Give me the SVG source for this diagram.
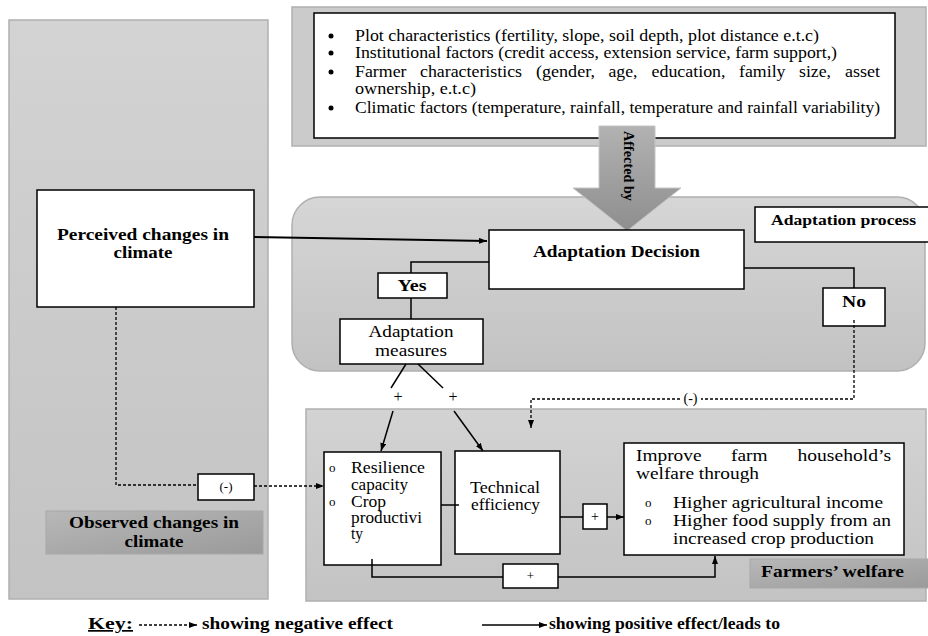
<svg xmlns="http://www.w3.org/2000/svg" width="928" height="636" viewBox="0 0 928 636" font-family="'Liberation Serif', 'DejaVu Serif', serif">
<defs>
<linearGradient id="gPanel" x1="0" y1="0" x2="0" y2="1"><stop offset="0" stop-color="#d3d3d3"/><stop offset="1" stop-color="#c3c3c3"/></linearGradient>
<linearGradient id="gMid" x1="0" y1="0" x2="0" y2="1"><stop offset="0" stop-color="#d6d6d6"/><stop offset="1" stop-color="#c2c2c2"/></linearGradient>
<linearGradient id="gDark" x1="0" y1="0" x2="1" y2="1"><stop offset="0" stop-color="#b8b8b8"/><stop offset="1" stop-color="#9a9a9a"/></linearGradient>
<linearGradient id="gArrow" x1="0" y1="0" x2="0" y2="1"><stop offset="0" stop-color="#b2b2b2"/><stop offset="1" stop-color="#8e8e8e"/></linearGradient>
<marker id="ah" markerWidth="8" markerHeight="6" refX="8" refY="3" orient="auto" markerUnits="userSpaceOnUse"><path d="M0,0 L8,3 L0,6 Z" fill="#000"/></marker>
</defs>
<style>
text{font-family:'Liberation Serif','DejaVu Serif',serif;fill:#000}
.b{font-weight:bold}
.box{fill:#fff;stroke:#000;stroke-width:1.5}
.ln{fill:none;stroke:#000;stroke-width:1.5}
.dl{fill:none;stroke:#000;stroke-width:1.3;stroke-dasharray:3,2}
.pan{stroke:#b0b0b0;stroke-width:1.5}
</style>

<g id="observed-panel">
<rect x="9" y="20" width="259" height="579" fill="url(#gPanel)" class="pan"/>
</g>
<g id="factors-panel">
<rect x="292" y="7" width="634" height="139" fill="#cbcbcb" class="pan"/>
</g>
<g id="adaptation-panel">
<rect x="292" y="197" width="633" height="174" rx="28" fill="url(#gMid)" class="pan"/>
</g>
<g id="welfare-panel">
<rect x="306" y="409" width="620" height="192" fill="url(#gPanel)" class="pan"/>
</g>

<g id="factors">
<rect x="314" y="13" width="581" height="125" class="box"/>
<circle cx="331" cy="36" r="2.5"/>
<circle cx="331" cy="53" r="2.5"/>
<circle cx="331" cy="72" r="2.5"/>
<circle cx="331" cy="108" r="2.5"/>
<text font-size="16" x="355" y="41" textLength="464" lengthAdjust="spacingAndGlyphs">Plot characteristics (fertility, slope, soil depth, plot distance e.t.c)</text>
<text font-size="16" x="355" y="58" textLength="482" lengthAdjust="spacingAndGlyphs">Institutional factors (credit access, extension service, farm support,)</text>
<text font-size="16" x="355" y="77" textLength="51.5" lengthAdjust="spacingAndGlyphs">Farmer</text>
<text font-size="16" x="420" y="77" textLength="102" lengthAdjust="spacingAndGlyphs">characteristics</text>
<text font-size="16" x="536" y="77" textLength="59" lengthAdjust="spacingAndGlyphs">(gender,</text>
<text font-size="16" x="608.5" y="77" textLength="29" lengthAdjust="spacingAndGlyphs">age,</text>
<text font-size="16" x="651.5" y="77" textLength="74" lengthAdjust="spacingAndGlyphs">education,</text>
<text font-size="16" x="739" y="77" textLength="46.5" lengthAdjust="spacingAndGlyphs">family</text>
<text font-size="16" x="799" y="77" textLength="32" lengthAdjust="spacingAndGlyphs">size,</text>
<text font-size="16" x="845" y="77" textLength="35" lengthAdjust="spacingAndGlyphs">asset</text>
<text font-size="16" x="355" y="94" textLength="121" lengthAdjust="spacingAndGlyphs">ownership, e.t.c)</text>
<text font-size="16" x="355" y="113" textLength="525" lengthAdjust="spacingAndGlyphs">Climatic factors (temperature, rainfall, temperature and rainfall variability)</text>
</g>

<g id="affected-by">
<polygon points="599,126 655,126 655,188 681,188 627,231 573,188 599,188" fill="url(#gArrow)" stroke="#c4c4c4" stroke-width="1"/>
<text class="b" font-size="15" text-anchor="middle" transform="translate(624,166) rotate(90)" textLength="70" lengthAdjust="spacingAndGlyphs">Affected by</text>
</g>

<g id="perceived">
<rect x="37" y="190" width="217" height="117" class="box"/>
<text class="b" font-size="17" x="143" y="240" text-anchor="middle" textLength="172" lengthAdjust="spacingAndGlyphs">Perceived changes in</text>
<text class="b" font-size="17" x="143" y="258" text-anchor="middle" textLength="59" lengthAdjust="spacingAndGlyphs">climate</text>
</g>

<g id="observed-label">
<rect x="46" y="511" width="217" height="43" fill="url(#gDark)" stroke="#a8a8a8" stroke-width="1"/>
<text class="b" font-size="17" x="154" y="528" text-anchor="middle" textLength="170" lengthAdjust="spacingAndGlyphs">Observed changes in</text>
<text class="b" font-size="17" x="154" y="547" text-anchor="middle" textLength="59" lengthAdjust="spacingAndGlyphs">climate</text>
</g>

<g id="neg-box-left">
<rect x="198" y="474" width="56" height="26" class="box"/>
<text font-size="13" x="226" y="491" text-anchor="middle">(-)</text>
</g>

<g id="adaptation-process">
<rect x="755" y="207" width="175" height="35" class="box"/>
<text class="b" font-size="15" x="771" y="225" textLength="145" lengthAdjust="spacingAndGlyphs">Adaptation process</text>
</g>

<g id="decision">
<rect x="489" y="230" width="255" height="59" class="box"/>
<text class="b" font-size="16" x="616.5" y="257" text-anchor="middle" textLength="167" lengthAdjust="spacingAndGlyphs">Adaptation Decision</text>
</g>

<g id="yes">
<rect x="378" y="273" width="69" height="25" class="box"/>
<text class="b" font-size="16" x="412" y="291" text-anchor="middle" textLength="29" lengthAdjust="spacingAndGlyphs">Yes</text>
</g>

<g id="no">
<rect x="823" y="288" width="62" height="38" class="box"/>
<text class="b" font-size="16" x="854" y="307" text-anchor="middle" textLength="24" lengthAdjust="spacingAndGlyphs">No</text>
</g>

<g id="measures">
<rect x="340" y="319" width="143" height="45" class="box"/>
<text font-size="17" x="411" y="337" text-anchor="middle" textLength="85" lengthAdjust="spacingAndGlyphs">Adaptation</text>
<text font-size="17" x="411" y="356" text-anchor="middle" textLength="72" lengthAdjust="spacingAndGlyphs">measures</text>
</g>

<g id="resilience">
<rect x="324" y="452" width="117" height="113" class="box"/>
<text font-size="13" x="329" y="472">o</text>
<text font-size="13" x="329" y="506">o</text>
<text font-size="16" x="351" y="473" textLength="74" lengthAdjust="spacingAndGlyphs">Resilience</text>
<text font-size="16" x="351" y="490" textLength="57" lengthAdjust="spacingAndGlyphs">capacity</text>
<text font-size="16" x="351" y="507" textLength="35" lengthAdjust="spacingAndGlyphs">Crop</text>
<text font-size="16" x="351" y="523" textLength="71" lengthAdjust="spacingAndGlyphs">productivi</text>
<text font-size="16" x="351" y="539" textLength="12" lengthAdjust="spacingAndGlyphs">ty</text>
</g>

<g id="technical">
<rect x="455" y="451" width="105" height="103" class="box"/>
<text font-size="16" x="470" y="493" textLength="70" lengthAdjust="spacingAndGlyphs">Technical</text>
<text font-size="16" x="471" y="510" textLength="69" lengthAdjust="spacingAndGlyphs">efficiency</text>
</g>

<g id="plus-small">
<rect x="583" y="504" width="24" height="25" class="box"/>
<text font-size="14" x="595" y="521" text-anchor="middle">+</text>
</g>

<g id="plus-bottom">
<rect x="503" y="564" width="55" height="24" class="box"/>
<text font-size="13" x="530.5" y="580" text-anchor="middle">+</text>
</g>

<g id="improve">
<rect x="624" y="443" width="280" height="112" class="box"/>
<text font-size="16" x="636" y="461" textLength="65.5" lengthAdjust="spacingAndGlyphs">Improve</text>
<text font-size="16" x="731" y="461" textLength="36.5" lengthAdjust="spacingAndGlyphs">farm</text>
<text font-size="16" x="797.5" y="461" textLength="93.5" lengthAdjust="spacingAndGlyphs">household’s</text>
<text font-size="16" x="636" y="479" textLength="123" lengthAdjust="spacingAndGlyphs">welfare through</text>
<text font-size="13" x="645" y="507">o</text>
<text font-size="13" x="645" y="525">o</text>
<text font-size="16" x="673" y="508" textLength="210" lengthAdjust="spacingAndGlyphs">Higher agricultural income</text>
<text font-size="16" x="673" y="526" textLength="218" lengthAdjust="spacingAndGlyphs">Higher food supply from an</text>
<text font-size="16" x="673" y="544" textLength="201" lengthAdjust="spacingAndGlyphs">increased crop production</text>
</g>

<g id="farmers-welfare-label">
<rect x="750" y="559" width="180" height="29" fill="url(#gDark)" stroke="#a8a8a8" stroke-width="1"/>
<text class="b" font-size="16" x="761" y="577" textLength="143" lengthAdjust="spacingAndGlyphs">Farmers’ welfare</text>
</g>

<g id="connectors">
<line x1="254" y1="237" x2="487" y2="241" stroke="#000" stroke-width="2" marker-end="url(#ah)"/>
<polyline points="489,262 411,262 411,273" class="ln"/>
<line x1="411" y1="298" x2="411" y2="319" class="ln"/>
<polyline points="744,268 854,268 854,288" class="ln"/>
<line x1="406" y1="364" x2="391" y2="388" class="ln"/>
<line x1="418" y1="364" x2="443" y2="388" class="ln"/>
<text font-size="16" x="398" y="402" text-anchor="middle">+</text>
<text font-size="16" x="453" y="402" text-anchor="middle">+</text>
<line x1="393" y1="411" x2="381" y2="451" class="ln" marker-end="url(#ah)"/>
<line x1="454" y1="411" x2="483" y2="451" class="ln" marker-end="url(#ah)"/>
<polyline points="854,320 854,399 701,399" class="dl"/>
<polyline points="680,399 531,399 531,428" class="dl" marker-end="url(#ah)"/>
<text font-size="14" x="690.5" y="403" text-anchor="middle">(-)</text>
<polyline points="116,307 116,485 198,485" class="dl"/>
<line x1="254" y1="486" x2="324" y2="486" class="dl" marker-end="url(#ah)"/>
<line x1="441" y1="505" x2="459" y2="505" class="ln"/>
<line x1="560" y1="517" x2="583" y2="517" class="ln"/>
<line x1="607" y1="517" x2="624" y2="517" class="ln" marker-end="url(#ah)"/>
<polyline points="372,559 372,577 503,577" class="ln"/>
<polyline points="558,577 715,577 715,556" class="ln" marker-end="url(#ah)"/>
</g>

<g id="key">
<text class="b" font-size="17" x="88" y="629" text-decoration="underline" textLength="45" lengthAdjust="spacingAndGlyphs">Key:</text>
<line x1="139" y1="625" x2="197" y2="625" class="dl" marker-end="url(#ah)"/>
<text class="b" font-size="17" x="202" y="629" textLength="191" lengthAdjust="spacingAndGlyphs">showing negative effect</text>
<line x1="482" y1="625" x2="547" y2="625" class="ln" marker-end="url(#ah)"/>
<text class="b" font-size="17" x="549" y="629" textLength="231" lengthAdjust="spacingAndGlyphs">showing positive effect/leads to</text>
</g>
</svg>
